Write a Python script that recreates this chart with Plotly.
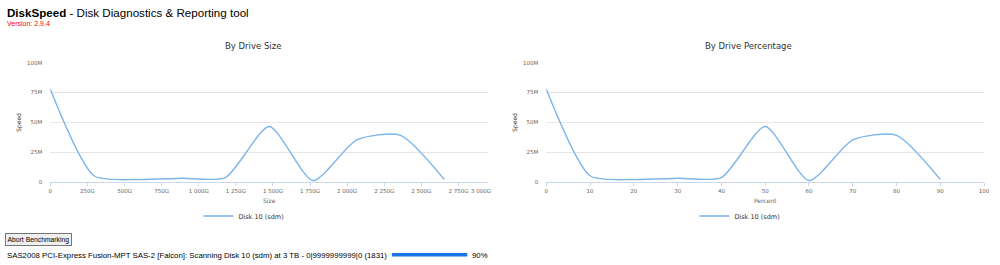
import plotly.graph_objects as go

# ---- data ----
percent = [0, 10, 20, 30, 40, 50, 60, 70, 80, 90]
size_gb = [0, 295, 590, 885, 1180, 1475, 1770, 2065, 2360, 2655]
speed_m = [77.7, 5.5, 2.3, 3.4, 4.0, 46.7, 1.5, 35.5, 39.3, 2.4]
drive_size_gb = 2950
series_name = "Disk 10 (sdm)"
y_ticks = [0, 25, 50, 75, 100]
y_tick_text = ["0", "25M", "50M", "75M", "100M"]
size_ticks = [0, 250, 500, 750, 1000, 1250, 1500, 1750, 2000, 2250, 2500, 2750]
size_tick_text = ["0", "250G", "500G", "750G", "1 000G", "1 250G", "1 500G",
                  "1 750G", "2 000G", "2 250G", "2 500G", "2 750G"]
pct_ticks = [0, 10, 20, 30, 40, 50, 60, 70, 80, 90, 100]

W, H = 1000, 265
LINE = "#7cb5ec"
GRID = "#e6e6e6"
AXIS = "#ccd6eb"
LBL = "#666666"
FONT = "DejaVu Sans"
SMOOTH = 0.65

def py(px):
    return 1 - px / H

fig = go.Figure()
fig.add_trace(go.Scatter(x=size_gb, y=speed_m, mode="lines", name=series_name,
                         line=dict(color=LINE, width=1.4, shape="spline", smoothing=SMOOTH),
                         xaxis="x", yaxis="y", legend="legend"))
fig.add_trace(go.Scatter(x=percent, y=speed_m, mode="lines", name=series_name,
                         line=dict(color=LINE, width=1.4, shape="spline", smoothing=SMOOTH),
                         xaxis="x2", yaxis="y2", legend="legend2"))

ydom = [py(183.5), py(61)]
tickfont = dict(family=FONT, size=5.5, color=LBL)
common_x = dict(showgrid=False, showline=True, linecolor=AXIS, linewidth=1,
                ticks="outside", ticklen=3, tickcolor=AXIS, tickfont=tickfont,
                zeroline=False, fixedrange=True)
common_y = dict(range=[0, 100], tickvals=y_ticks, ticktext=y_tick_text,
                showgrid=True, gridcolor=GRID, gridwidth=1, zeroline=False,
                showline=False, ticks="", tickfont=tickfont, ticklabelstandoff=7,
                fixedrange=True)

fig.update_layout(
    width=W, height=H,
    margin=dict(l=0, r=0, t=0, b=0),
    paper_bgcolor="white", plot_bgcolor="white",
    font=dict(family=FONT, color="#333333"),
    xaxis=dict(domain=[48.7 / W, 490 / W], anchor="y", range=[0, drive_size_gb],
               tickvals=size_ticks, ticktext=size_tick_text,
               title=dict(text="Size", font=dict(family=FONT, size=6, color=LBL), standoff=5),
               **common_x),
    yaxis=dict(domain=ydom, anchor="x",
               title=dict(text="Speed", font=dict(family=FONT, size=6, color="#333"), standoff=4),
               **common_y),
    xaxis2=dict(domain=[548.7 / W, 990 / W], anchor="y2", range=[0, 100],
                tickvals=pct_ticks,
                title=dict(text="Percent", font=dict(family=FONT, size=6, color=LBL), standoff=5),
                **common_x),
    yaxis2=dict(domain=ydom, anchor="x2",
                title=dict(text="Speed", font=dict(family=FONT, size=6, color="#333"), standoff=4),
                **common_y),
    legend=dict(x=198 / W, y=py(218), xanchor="left", yanchor="middle",
                orientation="h", font=dict(family=FONT, size=6.5, color="#333333"),
                bgcolor="rgba(0,0,0,0)", itemwidth=30),
    legend2=dict(x=698 / W, y=py(218), xanchor="left", yanchor="middle",
                 orientation="h", font=dict(family=FONT, size=6.5, color="#333333"),
                 bgcolor="rgba(0,0,0,0)", itemwidth=30),
    showlegend=True,
)

ann = []
ann.append(dict(text="<b>DiskSpeed</b> - Disk Diagnostics & Reporting tool",
                x=3 / W, y=py(10), xref="paper", yref="paper", xanchor="left",
                yanchor="middle", showarrow=False,
                font=dict(family="Liberation Sans", size=11.6, color="#000")))
ann.append(dict(text="Version: 2.9.4", x=3 / W, y=py(21), xref="paper", yref="paper",
                xanchor="left", yanchor="middle", showarrow=False,
                font=dict(family="Liberation Sans", size=7, color="#ff0000")))
ann.append(dict(text="By Drive Size", x=253 / W, y=py(43.5), xref="paper", yref="paper",
                xanchor="center", yanchor="middle", showarrow=False,
                font=dict(family=FONT, size=8.5, color="#333333")))
ann.append(dict(text="By Drive Percentage", x=753 / W, y=py(43.5), xref="paper", yref="paper",
                xanchor="center", yanchor="middle", showarrow=False,
                font=dict(family=FONT, size=8.5, color="#333333")))
ann.append(dict(text="3 000G", x=495 / W, y=py(192.5), xref="paper", yref="paper",
                xanchor="right", yanchor="middle", showarrow=False, font=tickfont))
ann.append(dict(text="Abort Benchmarking", x=3 / W, y=py(242), xref="paper", yref="paper",
                xanchor="left", yanchor="middle", showarrow=False,
                bgcolor="#efefef", bordercolor="#767676", borderwidth=1, borderpad=1.5,
                font=dict(family="Liberation Sans", size=6.8, color="#000")))
ann.append(dict(text="SAS2008 PCI-Express Fusion-MPT SAS-2 [Falcon]: Scanning Disk 10 (sdm) at 3 TB - 0|9999999999|0 (1831)",
                x=3 / W, y=py(258), xref="paper", yref="paper",
                xanchor="left", yanchor="middle", showarrow=False,
                font=dict(family="Liberation Sans", size=7.8, color="#000")))
ann.append(dict(text="90%", x=472 / W, y=py(258), xref="paper", yref="paper",
                xanchor="left", yanchor="middle", showarrow=False,
                font=dict(family="Liberation Sans", size=7.8, color="#000")))
fig.update_layout(annotations=ann)

fig.add_shape(type="line", xref="paper", yref="paper",
              x0=393 / W, x1=469 / W, y0=py(257.5), y1=py(257.5),
              line=dict(color="#1a73e8", width=3.5))

fig.write_html("out.html")
